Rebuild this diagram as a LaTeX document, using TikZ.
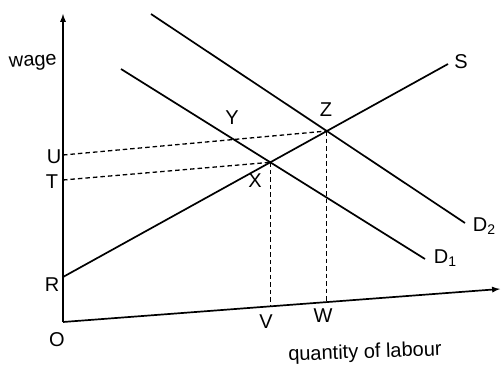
\documentclass[tikz,border=0pt]{standalone}
\usepackage{fontspec}
\setmainfont{Liberation Sans}
\usetikzlibrary{intersections}

\begin{document}
\begin{tikzpicture}[x=1pt,y=-1pt,line width=1.7pt,>=latex,
    dashed line/.style={line width=1.3pt,dash pattern=on 4.5pt off 3pt},
    lbl/.style={font=\fontsize{20}{22}\selectfont,inner sep=1pt}]
  \useasboundingbox (0,0) rectangle (504,369);
  % axes
  \coordinate (O) at (63,322);
  \coordinate (ytop) at (63,14);
  \coordinate (xend) at (500,289);
  \draw[->, name path=xaxis] (O) -- (xend);
  \draw[->] (O) -- (ytop);
  \node[lbl] (Olbl) at (57,340) {O};
  \node[lbl, rotate=4] (wage) at (33,63) {wage};
  \node[lbl, rotate=2] (qty) at (365,353) {quantity of labour};

  % supply and demand
  \coordinate (R) at (63,277);
  \coordinate (Send) at (448,64);
  \coordinate (D1a) at (121,69);
  \coordinate (D1b) at (425,259);
  \coordinate (D2a) at (151,14);
  \coordinate (D2b) at (465,223);
  \draw[name path=S] (R) -- (Send);
  \draw[name path=D1] (D1a) -- (D1b);
  \draw[name path=D2] (D2a) -- (D2b);
  \node[lbl] (Rlbl) at (52,285) {R};
  \node[lbl] (Slbl) at (461,62) {S};
  \node[lbl, anchor=west] (D1lbl) at (432,258) {D\textsubscript{1}};
  \node[lbl, anchor=west] (D2lbl) at (471,226) {D\textsubscript{2}};

  % equilibria
  \path[name intersections={of=S and D1, by={X}}];
  \path[name intersections={of=S and D2, by={Z}}];
  \coordinate (T) at (63,180);
  \coordinate (U) at (63,155);
  \draw[dashed line, name path=UZ] (U) -- (Z);
  \draw[dashed line] (T) -- (X);
  \path[name intersections={of=UZ and D1, by={Y}}];
  \path[name path=Xdown] (X) -- ++(0,200);
  \path[name path=Zdown] (Z) -- ++(0,200);
  \path[name intersections={of=Xdown and xaxis, by={V}}];
  \path[name intersections={of=Zdown and xaxis, by={W}}];
  \draw[dashed line] (X) -- (V);
  \draw[dashed line] (Z) -- (W);
  \node[lbl] (Ulbl) at (54,157) {U};
  \node[lbl] (Tlbl) at (52,182) {T};
  \node[lbl] (Xlbl) at (255,181) {X};
  \node[lbl] (Ylbl) at (232,118) {Y};
  \node[lbl] (Zlbl) at (326,110) {Z};
  \node[lbl] (Vlbl) at (266,322) {V};
  \node[lbl] (Wlbl) at (323,316) {W};
\end{tikzpicture}
\end{document}
